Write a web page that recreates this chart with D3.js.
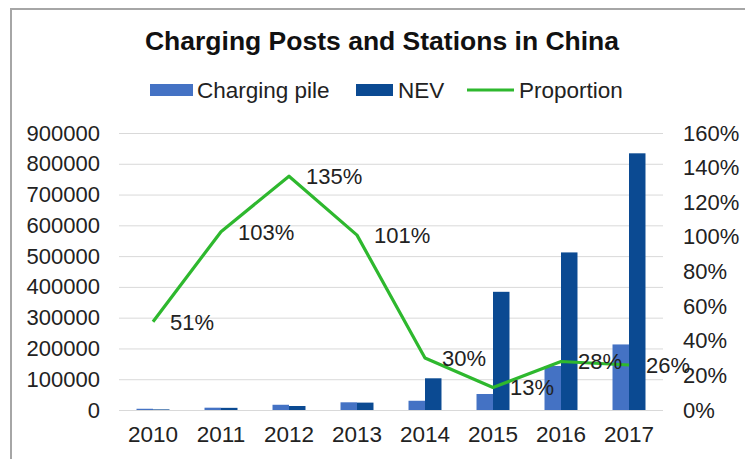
<!DOCTYPE html>
<html>
<head>
<meta charset="utf-8">
<script src="https://cdn.jsdelivr.net/npm/d3@7"></script>
<style>
  body { margin: 0; background: #fff; }
  svg { font-family: "Liberation Sans", Arial, sans-serif; }
</style>
</head>
<body>
<div id="root"></div>
<script>
const years = ["2010", "2011", "2012", "2013", "2014", "2015", "2016", "2017"];
const chargingPile = [4000, 7500, 17000, 25000, 30000, 52000, 143000, 213000];
const nev = [2000, 7000, 13000, 24000, 103000, 384000, 512000, 834000];
const proportion = [0.51, 1.03, 1.35, 1.01, 0.30, 0.13, 0.28, 0.26];
const leftTicks = [0, 100000, 200000, 300000, 400000, 500000, 600000, 700000, 800000, 900000];
const rightTicks = [0, 0.2, 0.4, 0.6, 0.8, 1.0, 1.2, 1.4, 1.6];

const W = 745, H = 459,
    margin = {top: 133, right: 82, bottom: 49, left: 119},
    width = W - margin.left - margin.right,
    height = H - margin.top - margin.bottom;

const pileColor = "#4472c4", nevColor = "#0b4a92", lineColor = "#2eb82e";

const root = d3.select("#root").append("svg")
    .attr("width", W)
    .attr("height", H);

// outer frame
root.append("rect")
    .attr("x", 11).attr("y", 9)
    .attr("width", W).attr("height", H)
    .attr("fill", "none")
    .attr("stroke", "#a6a6a6")
    .attr("stroke-width", 2);

root.append("text")
    .text("Charging Posts and Stations in China")
    .attr("x", 382).attr("y", 50)
    .attr("text-anchor", "middle")
    .attr("font-weight", "bold")
    .attr("font-size", 26.5)
    .attr("fill", "#111");

const svg = root.append("g")
    .attr("transform", "translate(" + margin.left + "," + margin.top + ")");

const x = d3.scaleBand()
    .domain(years)
    .range([0, width])
    .paddingInner(0.515)
    .paddingOuter(0.2575);

const xSub = d3.scaleBand()
    .domain(["pile", "nev"])
    .range([0, x.bandwidth()]);

const y = d3.scaleLinear().domain([0, 900000]).range([height, 0]);
const y2 = d3.scaleLinear().domain([0, 1.6]).range([height, 0]);

// gridlines
svg.append("g")
    .attr("class", "grid")
    .call(d3.axisLeft(y).tickValues(leftTicks).tickSize(-width).tickFormat(""))
    .call(g => g.select(".domain").remove())
    .call(g => g.selectAll("line").attr("stroke", "#d9d9d9"));

const leftAxis = svg.append("g")
    .call(d3.axisLeft(y).tickValues(leftTicks).tickSize(0).tickPadding(19).tickFormat(d => d))
    .call(g => g.select(".domain").remove());
leftAxis.selectAll("text").attr("font-size", 22).attr("fill", "#222").attr("font-family", null);

const rightAxis = svg.append("g")
    .attr("transform", "translate(" + width + ",0)")
    .call(d3.axisRight(y2).tickValues(rightTicks).tickSize(0).tickPadding(20).tickFormat(d3.format(".0%")))
    .call(g => g.select(".domain").remove());
rightAxis.selectAll("text").attr("font-size", 22).attr("fill", "#222").attr("font-family", null);

const bottomAxis = svg.append("g")
    .attr("transform", "translate(0," + height + ")")
    .call(d3.axisBottom(x).tickSize(0).tickPadding(16))
    .call(g => g.select(".domain").remove());
bottomAxis.selectAll("text").attr("font-size", 22.5).attr("fill", "#222").attr("font-family", null);

// bars
const groups = svg.selectAll(".year")
    .data(years)
    .enter()
    .append("g")
    .attr("transform", d => "translate(" + x(d) + ",0)");

groups.append("rect")
    .attr("x", xSub("pile"))
    .attr("y", (d, i) => y(chargingPile[i]))
    .attr("width", xSub.bandwidth())
    .attr("height", (d, i) => height - y(chargingPile[i]))
    .attr("fill", pileColor);

groups.append("rect")
    .attr("x", xSub("nev"))
    .attr("y", (d, i) => y(nev[i]))
    .attr("width", xSub.bandwidth())
    .attr("height", (d, i) => height - y(nev[i]))
    .attr("fill", nevColor);

// proportion line
const cx = (d, i) => x(years[i]) + x.bandwidth() / 2;
svg.append("path")
    .datum(proportion)
    .attr("fill", "none")
    .attr("stroke", lineColor)
    .attr("stroke-width", 3.2)
    .attr("stroke-linejoin", "round")
    .attr("d", d3.line().x(cx).y(d => y2(d)));

svg.selectAll(".plabel")
    .data(proportion)
    .enter()
    .append("text")
    .attr("x", (d, i) => cx(d, i) + 17)
    .attr("y", d => y2(d))
    .attr("dy", "0.36em")
    .attr("font-size", 22)
    .attr("fill", "#222")
    .text(d => Math.round(d * 100) + "%");

// legend
const legendItems = [
    {label: "Charging pile", color: pileColor, type: "rect", x: 150},
    {label: "NEV", color: nevColor, type: "rect", x: 356},
    {label: "Proportion", color: lineColor, type: "line", x: 467}
];
const legend = root.append("g").attr("transform", "translate(0,90)");
legendItems.forEach(it => {
    if (it.type === "rect") {
        legend.append("rect")
            .attr("x", it.x).attr("y", -6)
            .attr("width", it.label === "NEV" ? 37 : 43).attr("height", 12)
            .attr("fill", it.color);
    } else {
        legend.append("line")
            .attr("x1", it.x).attr("x2", it.x + 47)
            .attr("y1", 0).attr("y2", 0)
            .attr("stroke", it.color).attr("stroke-width", 3.2);
    }
    legend.append("text")
        .attr("x", it.x + (it.type === "rect" ? (it.label === "NEV" ? 42 : 47) : 52))
        .attr("y", 0)
        .attr("dy", "0.36em")
        .attr("font-size", 22.5)
        .attr("fill", "#222")
        .text(it.label);
});
</script>
</body>
</html>
